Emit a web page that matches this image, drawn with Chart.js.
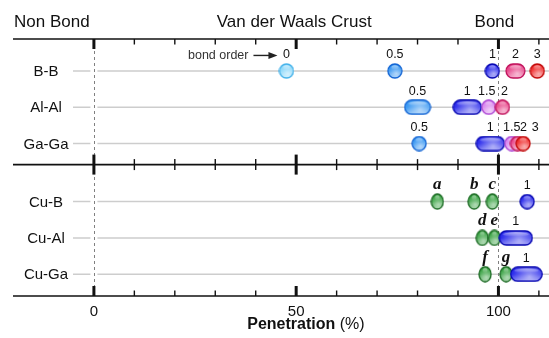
<!DOCTYPE html>
<html>
<head>
<meta charset="utf-8">
<script src="https://cdn.jsdelivr.net/npm/chart.js@4.4.0/dist/chart.umd.min.js"></script>
<style>
html, body { margin: 0; padding: 0; background: #fff; }
canvas { display: block; }
</style>
</head>
<body>
<canvas id="penChart" width="549" height="338"></canvas>
<script>
// ===== DATA =====
const rowNames = ['B-B', 'Al-Al', 'Ga-Ga', 'Cu-B', 'Cu-Al', 'Cu-Ga'];
const rowPos = [0, 1, 2, 3.6, 4.6, 5.6];
const panelDivider = 2.58;

// bond order (top panel) / structure letter (bottom panel), penetration in %
const bbLabels = ['0', '0.5', '1', '2', '3'];
const bbPen = [47.6, 74.4, 98.5, 104.2, 109.6];
const bbSpread = [0, 0, 0, 1.2, 0];

const alLabels = ['0.5', '1', '1.5', '2'];
const alPen = [80.0, 92.3, 97.6, 101.0];
const alSpread = [2.9, 3.5, 0, 0];

const gaLabels = ['0.5', '1', '1.5', '2', '3'];
const gaPen = [80.4, 98.0, 103.3, 104.7, 106.1];
const gaSpread = [0, 3.5, 0, 0, 0];

const cuBLabels = ['a', 'b', 'c', '1'];
const cuBPen = [84.9, 94.0, 98.5, 107.1];
const cuBSpread = [0, 0, 0, 0];

const cuAlLabels = ['d', 'e', '1'];
const cuAlPen = [96.0, 99.0, 104.3];
const cuAlSpread = [0, 0, 4.7];

const cuGaLabels = ['f', 'g', '1'];
const cuGaPen = [96.7, 101.9, 106.9];
const cuGaSpread = [0, 0, 4.3];

const xTickLabels = [0, 50, 100];
const headers = ['Non Bond', 'Van der Waals Crust', 'Bond'];

// ===== STYLE =====
const SANS = '"Liberation Sans", Arial, Helvetica, sans-serif';
const SERIF = '"Liberation Serif", "Times New Roman", serif';

// [fill, edge]
const markColors = {
    '0':   ['#8cd8fa', '#44b2ea'],
    '0.5': ['#3a98f2', '#1264d4'],
    '1':   ['#2c2cec', '#0404b0'],
    '1.5': ['#d884ee', '#ac44d4'],
    '2':   ['#e8468a', '#c0105a'],
    '3':   ['#f02c2c', '#c00606'],
    'letter': ['#34a03e', '#186820']
};

// label nudges (px) where labels would collide
const labelNudge = { '1-2': -2, '1-3': 2, '2-3': 6, '2-4': 12 };

const rows = [
    { labels: bbLabels, pen: bbPen, spread: bbSpread },
    { labels: alLabels, pen: alPen, spread: alSpread },
    { labels: gaLabels, pen: gaPen, spread: gaSpread },
    { labels: cuBLabels, pen: cuBPen, spread: cuBSpread },
    { labels: cuAlLabels, pen: cuAlPen, spread: cuAlSpread },
    { labels: cuGaLabels, pen: cuGaPen, spread: cuGaSpread }
];

// ===== GLOSSY MARKS =====
const markCache = {};

function shade(hex, amt) {
    const n = parseInt(hex.slice(1), 16);
    let r = n >> 16, g = (n >> 8) & 255, b = n & 255;
    r = Math.round(r + (255 - r) * amt);
    g = Math.round(g + (255 - g) * amt);
    b = Math.round(b + (255 - b) * amt);
    return `rgb(${r},${g},${b})`;
}

function markPath(g, x0, y0, w, h) {
    g.beginPath();
    if (w >= h) {
        const r = h / 2;
        g.moveTo(x0 + r, y0);
        g.lineTo(x0 + w - r, y0);
        g.arc(x0 + w - r, y0 + r, r, -Math.PI / 2, Math.PI / 2);
        g.lineTo(x0 + r, y0 + h);
        g.arc(x0 + r, y0 + r, r, Math.PI / 2, Math.PI * 1.5);
    } else {
        g.ellipse(x0 + w / 2, y0 + h / 2, w / 2, h / 2, 0, 0, Math.PI * 2);
    }
    g.closePath();
}

function getMark(key, w, h) {
    const id = key + '|' + w.toFixed(1) + '|' + h;
    if (markCache[id]) return markCache[id];
    const [fill, edge] = markColors[key];
    const c = document.createElement('canvas');
    c.width = Math.round(w + 2);
    c.height = Math.round(h + 2);
    const g = c.getContext('2d');
    const x0 = (c.width - w) / 2, y0 = (c.height - h) / 2;

    markPath(g, x0, y0, w, h);
    const lin = g.createLinearGradient(0, y0, 0, y0 + h);
    lin.addColorStop(0, fill);
    lin.addColorStop(0.5, fill);
    lin.addColorStop(1, shade(fill, 0.4));
    g.fillStyle = lin;
    g.fill();

    // inner glow, lower right
    g.save();
    markPath(g, x0, y0, w, h);
    g.clip();
    const gx = x0 + w * 0.6, gy = y0 + h * 0.68;
    const rad = g.createRadialGradient(gx, gy, 0, gx, gy, Math.max(w * 0.55, h * 0.6));
    rad.addColorStop(0, 'rgba(255,255,255,0.55)');
    rad.addColorStop(1, 'rgba(255,255,255,0)');
    g.fillStyle = rad;
    g.fillRect(0, 0, c.width, c.height);
    // small top sheen
    const hl = g.createLinearGradient(0, y0 + 1, 0, y0 + h * 0.4);
    hl.addColorStop(0, 'rgba(255,255,255,0.55)');
    hl.addColorStop(1, 'rgba(255,255,255,0)');
    g.fillStyle = hl;
    g.beginPath();
    g.ellipse(x0 + w / 2, y0 + h * 0.25, Math.max(w / 2 - 3.5, 2), h * 0.16, 0, 0, Math.PI * 2);
    g.fill();
    g.restore();

    markPath(g, x0, y0, w, h);
    g.strokeStyle = edge;
    g.lineWidth = 1.3;
    g.stroke();

    markCache[id] = c;
    return c;
}

function markFor(ctx) {
    if (ctx.type !== 'data') return 'circle';
    const ds = ctx.chart.data.datasets[ctx.datasetIndex];
    const lab = ds.markLabels[ctx.dataIndex];
    const spread = ds.spread[ctx.dataIndex];
    const xs = ctx.chart.scales.x;
    let ppu = xs ? Math.abs(xs.getPixelForValue(1) - xs.getPixelForValue(0)) : 4;
    if (!isFinite(ppu) || ppu <= 0) ppu = 4;
    const isLetter = /^[a-z]$/.test(lab);
    if (isLetter) return getMark('letter', 12, 15);
    return getMark(lab, 14 + spread * ppu, 14);
}

// ===== DECORATION PLUGIN =====
const panelPlugin = {
    id: 'panels',
    beforeDatasetsDraw(chart) {
        const { ctx, chartArea, scales: { x, y } } = chart;
        const x0 = x.getPixelForValue(0);
        ctx.save();

        // row guide lines
        ctx.strokeStyle = '#cdcdcd';
        ctx.lineWidth = 1.5;
        rowPos.forEach(p => {
            const py = y.getPixelForValue(p);
            ctx.beginPath();
            ctx.moveTo(73, py);
            ctx.lineTo(x0 - 3.5, py);
            ctx.moveTo(x0 + 3.5, py);
            ctx.lineTo(chartArea.right, py);
            ctx.stroke();
        });

        // dashed reference lines at 0 and 100 %
        ctx.strokeStyle = '#808080';
        ctx.lineWidth = 1;
        ctx.setLineDash([3, 3]);
        [0, 100].forEach(v => {
            const px = Math.round(x.getPixelForValue(v)) + 0.5;
            ctx.beginPath();
            ctx.moveTo(px, chartArea.top);
            ctx.lineTo(px, chartArea.bottom);
            ctx.stroke();
        });
        ctx.setLineDash([]);

        // three axis lines with ticks (top: down, middle: both, bottom: up)
        const axes = [
            { py: chartArea.top, up: 0, down: 1 },
            { py: y.getPixelForValue(panelDivider), up: 1, down: 1 },
            { py: chartArea.bottom, up: 1, down: 0 }
        ];
        ctx.strokeStyle = '#111';
        axes.forEach(a => {
            ctx.lineWidth = 1.6;
            ctx.beginPath();
            ctx.moveTo(13, a.py);
            ctx.lineTo(chartArea.right, a.py);
            ctx.stroke();
            for (let v = 0; v <= 110; v += 10) {
                const major = v % 50 === 0;
                const len = major ? 10 : 5.5;
                const px = x.getPixelForValue(v);
                ctx.lineWidth = major ? 3 : 1.4;
                ctx.beginPath();
                ctx.moveTo(px, a.py - len * a.up);
                ctx.lineTo(px, a.py + len * a.down);
                ctx.stroke();
            }
        });

        // row names
        ctx.fillStyle = '#111';
        ctx.font = '15px ' + SANS;
        ctx.textAlign = 'center';
        ctx.textBaseline = 'middle';
        rowNames.forEach((n, i) => {
            ctx.fillText(n, 46, y.getPixelForValue(rowPos[i]) + 1);
        });
        ctx.restore();
    },
    afterDatasetsDraw(chart) {
        const { ctx } = chart;
        ctx.save();
        ctx.textAlign = 'center';
        ctx.textBaseline = 'middle';
        ctx.fillStyle = '#111';
        chart.data.datasets.forEach((ds, di) => {
            const meta = chart.getDatasetMeta(di);
            meta.data.forEach((el, i) => {
                const lab = ds.markLabels[i];
                const isLetter = /^[a-z]$/.test(lab);
                ctx.font = isLetter ? 'bold italic 17px ' + SERIF : '12.5px ' + SANS;
                const dx = labelNudge[di + '-' + i] || 0;
                ctx.fillText(lab, el.x + dx, el.y - (isLetter ? 17 : 16));
            });
        });

        // "bond order ->" annotation pointing at the first B-B mark
        const first = chart.getDatasetMeta(0).data[0];
        const tip = first.x - 9, tail = tip - 24, ay = first.y - 15.5;
        ctx.strokeStyle = '#222';
        ctx.fillStyle = '#222';
        ctx.lineWidth = 1.4;
        ctx.beginPath();
        ctx.moveTo(tail, ay);
        ctx.lineTo(tip - 6, ay);
        ctx.stroke();
        ctx.beginPath();
        ctx.moveTo(tip, ay);
        ctx.lineTo(tip - 9, ay - 3.5);
        ctx.lineTo(tip - 9, ay + 3.5);
        ctx.closePath();
        ctx.fill();
        ctx.fillStyle = '#333';
        ctx.font = '12.5px ' + SANS;
        ctx.textAlign = 'right';
        ctx.fillText('bond order', tail - 5, ay);
        ctx.restore();
    },
    afterDraw(chart) {
        const { ctx, scales: { x } } = chart;
        ctx.save();
        ctx.fillStyle = '#111';
        ctx.font = '17px ' + SANS;
        ctx.textBaseline = 'middle';
        ctx.textAlign = 'left';
        ctx.fillText(headers[0], 14, 22);
        ctx.textAlign = 'center';
        ctx.fillText(headers[1], x.getPixelForValue(49.5), 22);
        ctx.fillText(headers[2], x.getPixelForValue(99), 22);

        // axis title: bold word + regular unit
        const bold = 'Penetration', unit = ' (%)';
        ctx.font = 'bold 16px ' + SANS;
        const wb = ctx.measureText(bold).width;
        ctx.font = '16px ' + SANS;
        const wu = ctx.measureText(unit).width;
        const left = x.getPixelForValue(52.4) - (wb + wu) / 2;
        ctx.textAlign = 'left';
        ctx.font = 'bold 16px ' + SANS;
        ctx.fillText(bold, left, 325);
        ctx.font = '16px ' + SANS;
        ctx.fillText(unit, left + wb, 325);
        ctx.restore();
    }
};

// ===== CHART =====
const penCtx = document.getElementById('penChart');

const penChart = new Chart(penCtx, {
    type: 'scatter',
    data: {
        datasets: rows.map((r, i) => ({
            label: rowNames[i],
            data: r.pen.map(v => ({ x: v, y: rowPos[i] })),
            markLabels: r.labels,
            spread: r.spread,
            pointStyle: markFor,
            pointRadius: 7,
            showLine: false
        }))
    },
    options: {
        responsive: false,
        animation: false,
        events: [],
        layout: { autoPadding: false, padding: { left: 13, right: 0, top: 39, bottom: 0 } },
        plugins: {
            legend: { display: false },
            tooltip: { enabled: false }
        },
        scales: {
            x: {
                type: 'linear',
                min: -20,
                max: 112.5,
                grid: { display: false, drawTicks: false },
                border: { display: false },
                afterFit: s => { s.height = 42; s.paddingLeft = 0; s.paddingRight = 0; },
                ticks: {
                    stepSize: 10,
                    autoSkip: false,
                    maxRotation: 0,
                    includeBounds: false,
                    padding: 7,
                    color: '#111',
                    font: { family: SANS, size: 15 },
                    callback: v => xTickLabels.includes(v) ? String(v) : ''
                }
            },
            y: {
                type: 'linear',
                display: false,
                reverse: true,
                min: -0.88,
                max: 6.2
            }
        }
    },
    plugins: [panelPlugin]
});
</script>
</body>
</html>
